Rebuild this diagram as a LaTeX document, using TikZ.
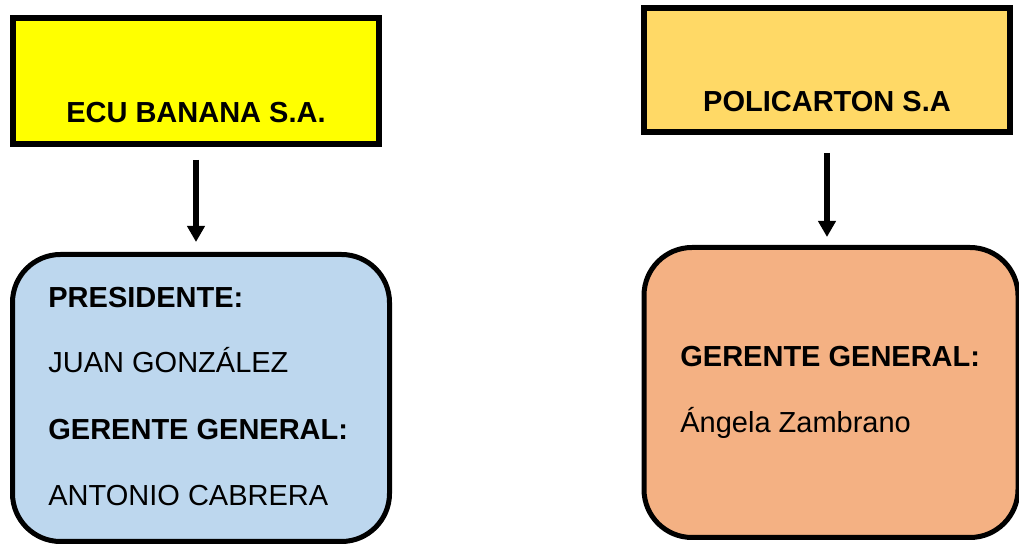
\documentclass[tikz,border=0pt]{standalone}
\usepackage{fontspec}
\setmainfont{Liberation Sans}
\usetikzlibrary{positioning,arrows.meta}
\definecolor{amarillo}{RGB}{255,255,0}
\definecolor{mostaza}{RGB}{255,217,102}
\definecolor{celeste}{RGB}{189,215,238}
\definecolor{salmon}{RGB}{244,177,131}
\tikzset{
	empresa/.style={draw,line width=3pt,inner sep=0pt,minimum width=183pt,anchor=base,font=\fontsize{14.5pt}{17pt}\selectfont\bfseries},
	cargo/.style={draw,line width=2.5pt,rounded corners=24pt,inner sep=0pt},
	txt/.style={anchor=base west,inner sep=0pt,font=\fontsize{14.5pt}{17pt}\selectfont},
	flecha/.style={line width=2.75pt,-{Triangle[width=8.5pt,length=8pt]}}
}

\begin{document}
\begin{tikzpicture}[x=0.5pt,y=-0.5pt]
	\useasboundingbox (0,0) rectangle (1019,544);
	
	%Empresas
	\node[empresa,fill=amarillo,text height=52.25pt,text depth=10.75pt] (ecu) at (196,122.5) {ECU BANANA S.A.};
	\node[empresa,fill=mostaza,text height=52pt,text depth=10pt] (poli) at (827,112) {POLICARTON S.A};
	
	%Cuadros de cargos
	\node[cargo,fill=celeste,minimum width=188.5pt,minimum height=143.5pt] (cargosecu) at (201,398) {};
	\node[cargo,fill=salmon,minimum width=187pt,minimum height=145pt] (cargospoli) at (831,392.5) {};
	
	%Textos ECU
	\node[txt,font=\fontsize{14.5pt}{17pt}\selectfont\bfseries] (presi) at (48,308) {PRESIDENTE:};
	\node[txt] (juan) at (48,373) {JUAN GONZÁLEZ};
	\node[txt,font=\fontsize{14.5pt}{17pt}\selectfont\bfseries] (gerecu) at (48,440) {GERENTE GENERAL:};
	\node[txt] (antonio) at (48,506) {ANTONIO CABRERA};
	
	%Textos Policarton
	\node[txt,font=\fontsize{14.5pt}{17pt}\selectfont\bfseries] (gerpoli) at (680,367) {GERENTE GENERAL:};
	\node[txt] (angela) at (680,433) {Ángela Zambrano};
	
	%Flechas
	\draw[flecha,shorten <=6.5pt,shorten >=5pt] (ecu.south) -- (ecu.south |- cargosecu.north);
	\draw[flecha,shorten <=9pt,shorten >=4pt] (poli.south) -- (poli.south |- cargospoli.north);
\end{tikzpicture}
\end{document}
